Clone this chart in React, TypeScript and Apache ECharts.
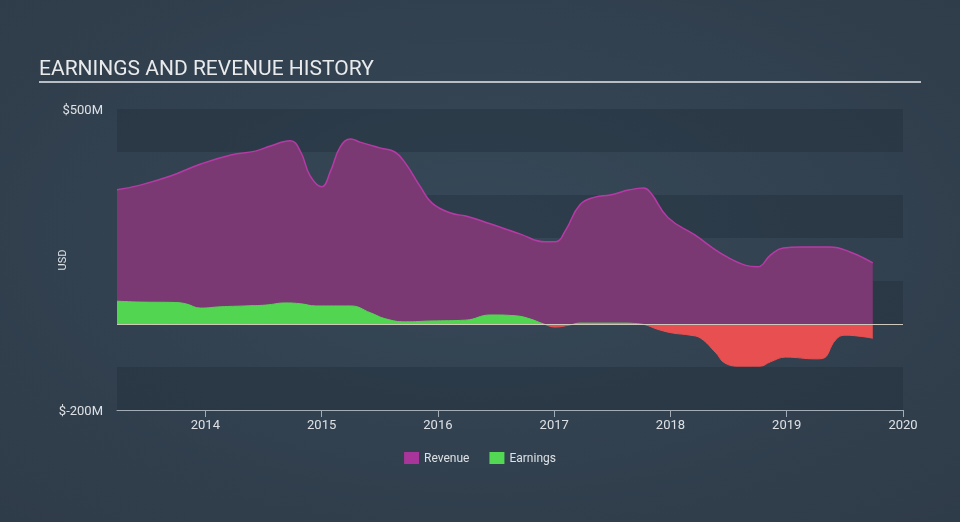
import React, { useEffect, useRef } from "react";
import * as echarts from "echarts";

const revenueDates = [2013.24, 2013.44, 2013.7, 2013.96, 2014.22, 2014.43, 2014.56, 2014.73, 2014.82, 2014.9, 2015.0, 2015.08, 2015.16, 2015.25, 2015.33, 2015.51, 2015.63, 2015.72, 2015.85, 2015.95, 2016.11, 2016.24, 2016.45, 2016.71, 2016.92, 2017.01, 2017.1, 2017.22, 2017.35, 2017.48, 2017.65, 2017.77, 2017.83, 2017.98, 2018.21, 2018.43, 2018.64, 2018.75, 2018.86, 2018.97, 2019.12, 2019.37, 2019.55, 2019.74];
const revenueValues = [312, 323, 344, 372, 393, 402, 414, 426, 400, 345, 319, 358, 412, 430, 423, 409, 400, 374, 319, 281, 258, 251, 233, 209, 191, 191, 219, 277, 295, 300, 312, 316, 305, 247, 207, 165, 137, 133, 160, 177, 179, 179, 167, 142];

const earningsDates = [2013.24, 2013.44, 2013.74, 2013.83, 2013.96, 2014.13, 2014.34, 2014.52, 2014.69, 2014.82, 2014.95, 2015.25, 2015.42, 2015.55, 2015.72, 2015.94, 2016.24, 2016.45, 2016.67, 2016.79, 2016.91, 2017.01, 2017.14, 2017.22, 2017.57, 2017.74, 2017.91, 2018.02, 2018.17, 2018.26, 2018.39, 2018.47, 2018.6, 2018.77, 2018.86, 2018.99, 2019.25, 2019.31, 2019.42, 2019.5, 2019.74];
const earningsValues = [53, 51, 50, 47, 37, 40, 42, 44, 49, 47, 42, 42, 26, 12, 5, 7, 9, 21, 19, 12, 0, -7, -2, 2, 2, 0, -14, -21, -26, -33, -67, -91, -98, -98, -88, -77, -81, -80, -37, -26, -33];

const yearTicks = [2014, 2015, 2016, 2017, 2018, 2019, 2020];
const xMin = 2013.24;
const xMax = 2020;
const yMin = -200;
const yMax = 500;
const yLabelValues = [500, -200];

const TITLE = "EARNINGS AND REVENUE HISTORY";
const Y_NAME = "USD";

export default function App() {
  const ref = useRef<HTMLDivElement>(null);
  useEffect(() => {
    if (!ref.current) return;
    const chart = echarts.init(ref.current, undefined, { renderer: "svg" });
    const font = "Roboto, 'Noto Sans', sans-serif";
    const eMax = Math.max(...earningsValues);
    const eMin = Math.min(...earningsValues);
    const zeroOffset = eMax / (eMax - eMin);
    const green = "#52d652";
    const red = "#e84f51";
    const earnGradient = {
      type: "linear",
      x: 0,
      y: 0,
      x2: 0,
      y2: 1,
      colorStops: [
        { offset: 0, color: green },
        { offset: zeroOffset, color: green },
        { offset: zeroOffset, color: red },
        { offset: 1, color: red },
      ],
    };
    chart.setOption({
      animation: false,
      backgroundColor: {
        type: "radial",
        x: 0.5,
        y: 0.45,
        r: 0.8,
        colorStops: [
          { offset: 0, color: "#364858" },
          { offset: 1, color: "#2e3a47" },
        ],
      },
      textStyle: { fontFamily: font },
      graphic: [
        {
          type: "text",
          left: 39,
          top: 57,
          style: { text: TITLE, fill: "#e8eaec", font: `400 21px ${font}` },
        },
        {
          type: "line",
          shape: { x1: 39, y1: 82, x2: 921, y2: 82 },
          style: { stroke: "#b9bec5", lineWidth: 2 },
        },
        {
          type: "text",
          x: 62,
          y: 260,
          rotation: Math.PI / 2,
          style: {
            text: Y_NAME,
            fill: "#dde1e5",
            font: `400 11px ${font}`,
            align: "center",
            verticalAlign: "middle",
          },
        },
      ],
      grid: { left: 117, right: 57, top: 109, bottom: 112 },
      legend: {
        bottom: 53,
        left: "center",
        icon: "rect",
        itemWidth: 15,
        itemHeight: 12,
        itemGap: 20,
        textStyle: { color: "#dde1e5", fontSize: 12, fontFamily: font },
        data: [
          { name: "Revenue", itemStyle: { color: "#a8359a" } },
          { name: "Earnings", itemStyle: { color: "#52d853" } },
        ],
      },
      xAxis: {
        type: "value",
        min: xMin,
        max: xMax,
        splitNumber: 7,
        axisLine: { show: true, onZero: false, lineStyle: { color: "#a3adb8", width: 1 } },
        axisTick: { show: true, length: 7, customValues: yearTicks, lineStyle: { color: "#a3adb8" } },
        axisLabel: {
          customValues: yearTicks,
          color: "#dde1e5",
          fontSize: 13,
          margin: 8,
          formatter: (v: number) => String(Math.round(v)),
        },
        splitLine: { show: false },
      },
      yAxis: {
        type: "value",
        min: yMin,
        max: yMax,
        interval: 100,
        axisLine: { show: false },
        axisTick: { show: false },
        axisLabel: {
          color: "#dde1e5",
          fontSize: 13,
          margin: 14,
          formatter: (v: number) => (yLabelValues.includes(v) ? `$${v}M` : ""),
        },
        splitLine: { show: false },
        splitArea: {
          show: true,
          areaStyle: { color: ["rgba(25,35,48,0.28)", "rgba(0,0,0,0)"] },
        },
      },
      series: [
        {
          name: "Revenue",
          type: "line",
          data: revenueDates.map((d, i) => [d, revenueValues[i]]),
          smooth: 0.45,
          showSymbol: false,
          symbol: "none",
          lineStyle: { color: "#b63aa5", width: 1.5 },
          itemStyle: { color: "#a8359a" },
          areaStyle: { color: "#7a3973", opacity: 1 },
          z: 2,
        },
        {
          name: "Earnings",
          type: "line",
          data: earningsDates.map((d, i) => [d, earningsValues[i]]),
          smooth: 0.45,
          showSymbol: false,
          symbol: "none",
          lineStyle: { width: 1, color: earnGradient },
          itemStyle: { color: "#52d853" },
          areaStyle: { opacity: 1, color: earnGradient },
          z: 3,
          markLine: {
            silent: true,
            symbol: ["none", "none"],
            label: { show: false },
            lineStyle: { color: "#cfc8bc", width: 1, type: "solid" },
            data: [{ yAxis: 0 }],
          },
        },
      ],
    });
    return () => chart.dispose();
  }, []);
  return <div ref={ref} style={{ width: 960, height: 522, position: "fixed", left: 0, top: 0 }} />;
}
